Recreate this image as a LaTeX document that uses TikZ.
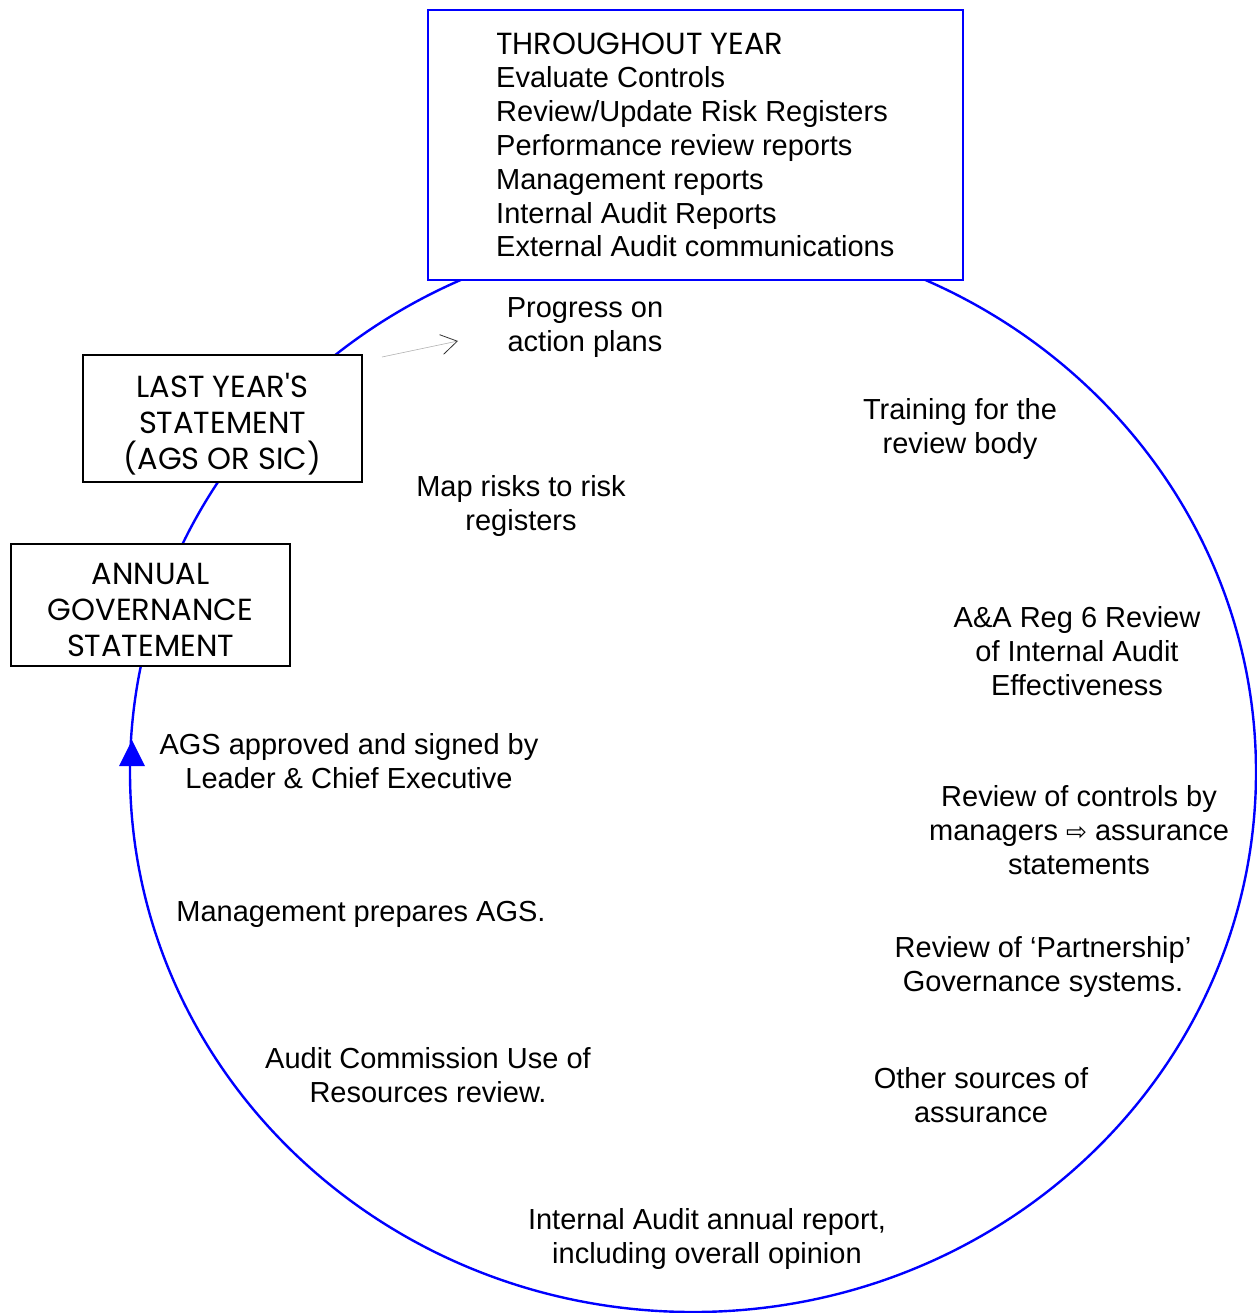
\documentclass[tikz,border=0pt]{standalone}
\usepackage{fontspec}
\setmainfont{Liberation Sans}
\newfontfamily\gothic{Poppins}
\newfontfamily\symfont{DejaVu Sans}
\usetikzlibrary{arrows.meta}
\definecolor{ringblue}{RGB}{0,0,255}
\begin{document}
\begin{tikzpicture}[x=1pt,y=-1pt,
  lbl/.style={align=center,inner sep=0pt,font=\fontsize{29}{34}\selectfont},
  gbox/.style={draw=black,line width=1.8pt,fill=white,inner sep=0pt},
  gtext/.style={align=center,inner sep=0pt,font=\gothic\fontsize{30.5}{36}\selectfont}]
\useasboundingbox (0,0) rectangle (1256,1313);
% cycle ring
\draw[ringblue,line width=2.4pt] (693,772) ellipse [x radius=563, y radius=540];
\fill[ringblue] (132,740) -- (145,766) -- (119,766) -- cycle;
% boxes
\node[draw=ringblue,line width=1.8pt,fill=white,minimum width=535pt,minimum height=270pt,inner sep=0pt] (top) at (695.5,145) {};
\node[anchor=base west,inner sep=0pt,align=left,font=\fontsize{29}{33.8}\selectfont] (toptext) at (496,257)
 {{\gothic\fontsize{30.5}{33.8}\selectfont THROUGHOUT YEAR}\\Evaluate Controls\\Review/Update Risk Registers\\Performance review reports\\Management reports\\Internal Audit Reports\\External Audit communications};
\node[gbox,minimum width=279pt,minimum height=127pt] (last) at (222.5,418.5) {};
\node[gtext] (lasttext) at (222.5,424) {LAST YEAR'S\\STATEMENT\\(AGS OR SIC)};
\node[gbox,minimum width=279pt,minimum height=122pt] (ags) at (150.5,605) {};
\node[gtext] (agstext) at (150.5,610) {ANNUAL\\GOVERNANCE\\STATEMENT};
% small arrow
\coordinate (pa) at (382,357);
\coordinate (pb) at (458,341);
\draw[black!30,line width=0.6pt,-{Straight Barb[length=16pt,width=20pt,color=black!80,line width=0.8pt]}] (pa) -- (pb);
% labels
\node[lbl] (progress) at (585,328) {Progress on\\action plans};
\node[lbl] (training) at (960,429) {Training for the\\review body};
\node[lbl] (maprisk) at (521,506) {Map risks to risk\\registers};
\node[lbl] (aareg) at (1077,651) {A\&A Reg 6 Review\\of Internal Audit\\Effectiveness};
\node[lbl] (approved) at (349,761) {AGS approved and signed by\\Leader \& Chief Executive};
\node[lbl] (reviewctl) at (1079,830) {Review of controls by\\managers {\symfont\fontsize{25}{34}\selectfont ⇨} assurance\\statements};
\node[lbl] (prepares) at (361,914) {Management prepares AGS.};
\node[lbl] (partner) at (1043,967) {Review of ‘Partnership’\\Governance systems.};
\node[lbl] (auditcom) at (428,1075) {Audit Commission Use of\\Resources review.};
\node[lbl] (other) at (981,1095) {Other sources of\\assurance};
\node[lbl] (iaannual) at (707,1239) {Internal Audit annual report,\\including overall opinion};
\end{tikzpicture}
\end{document}
